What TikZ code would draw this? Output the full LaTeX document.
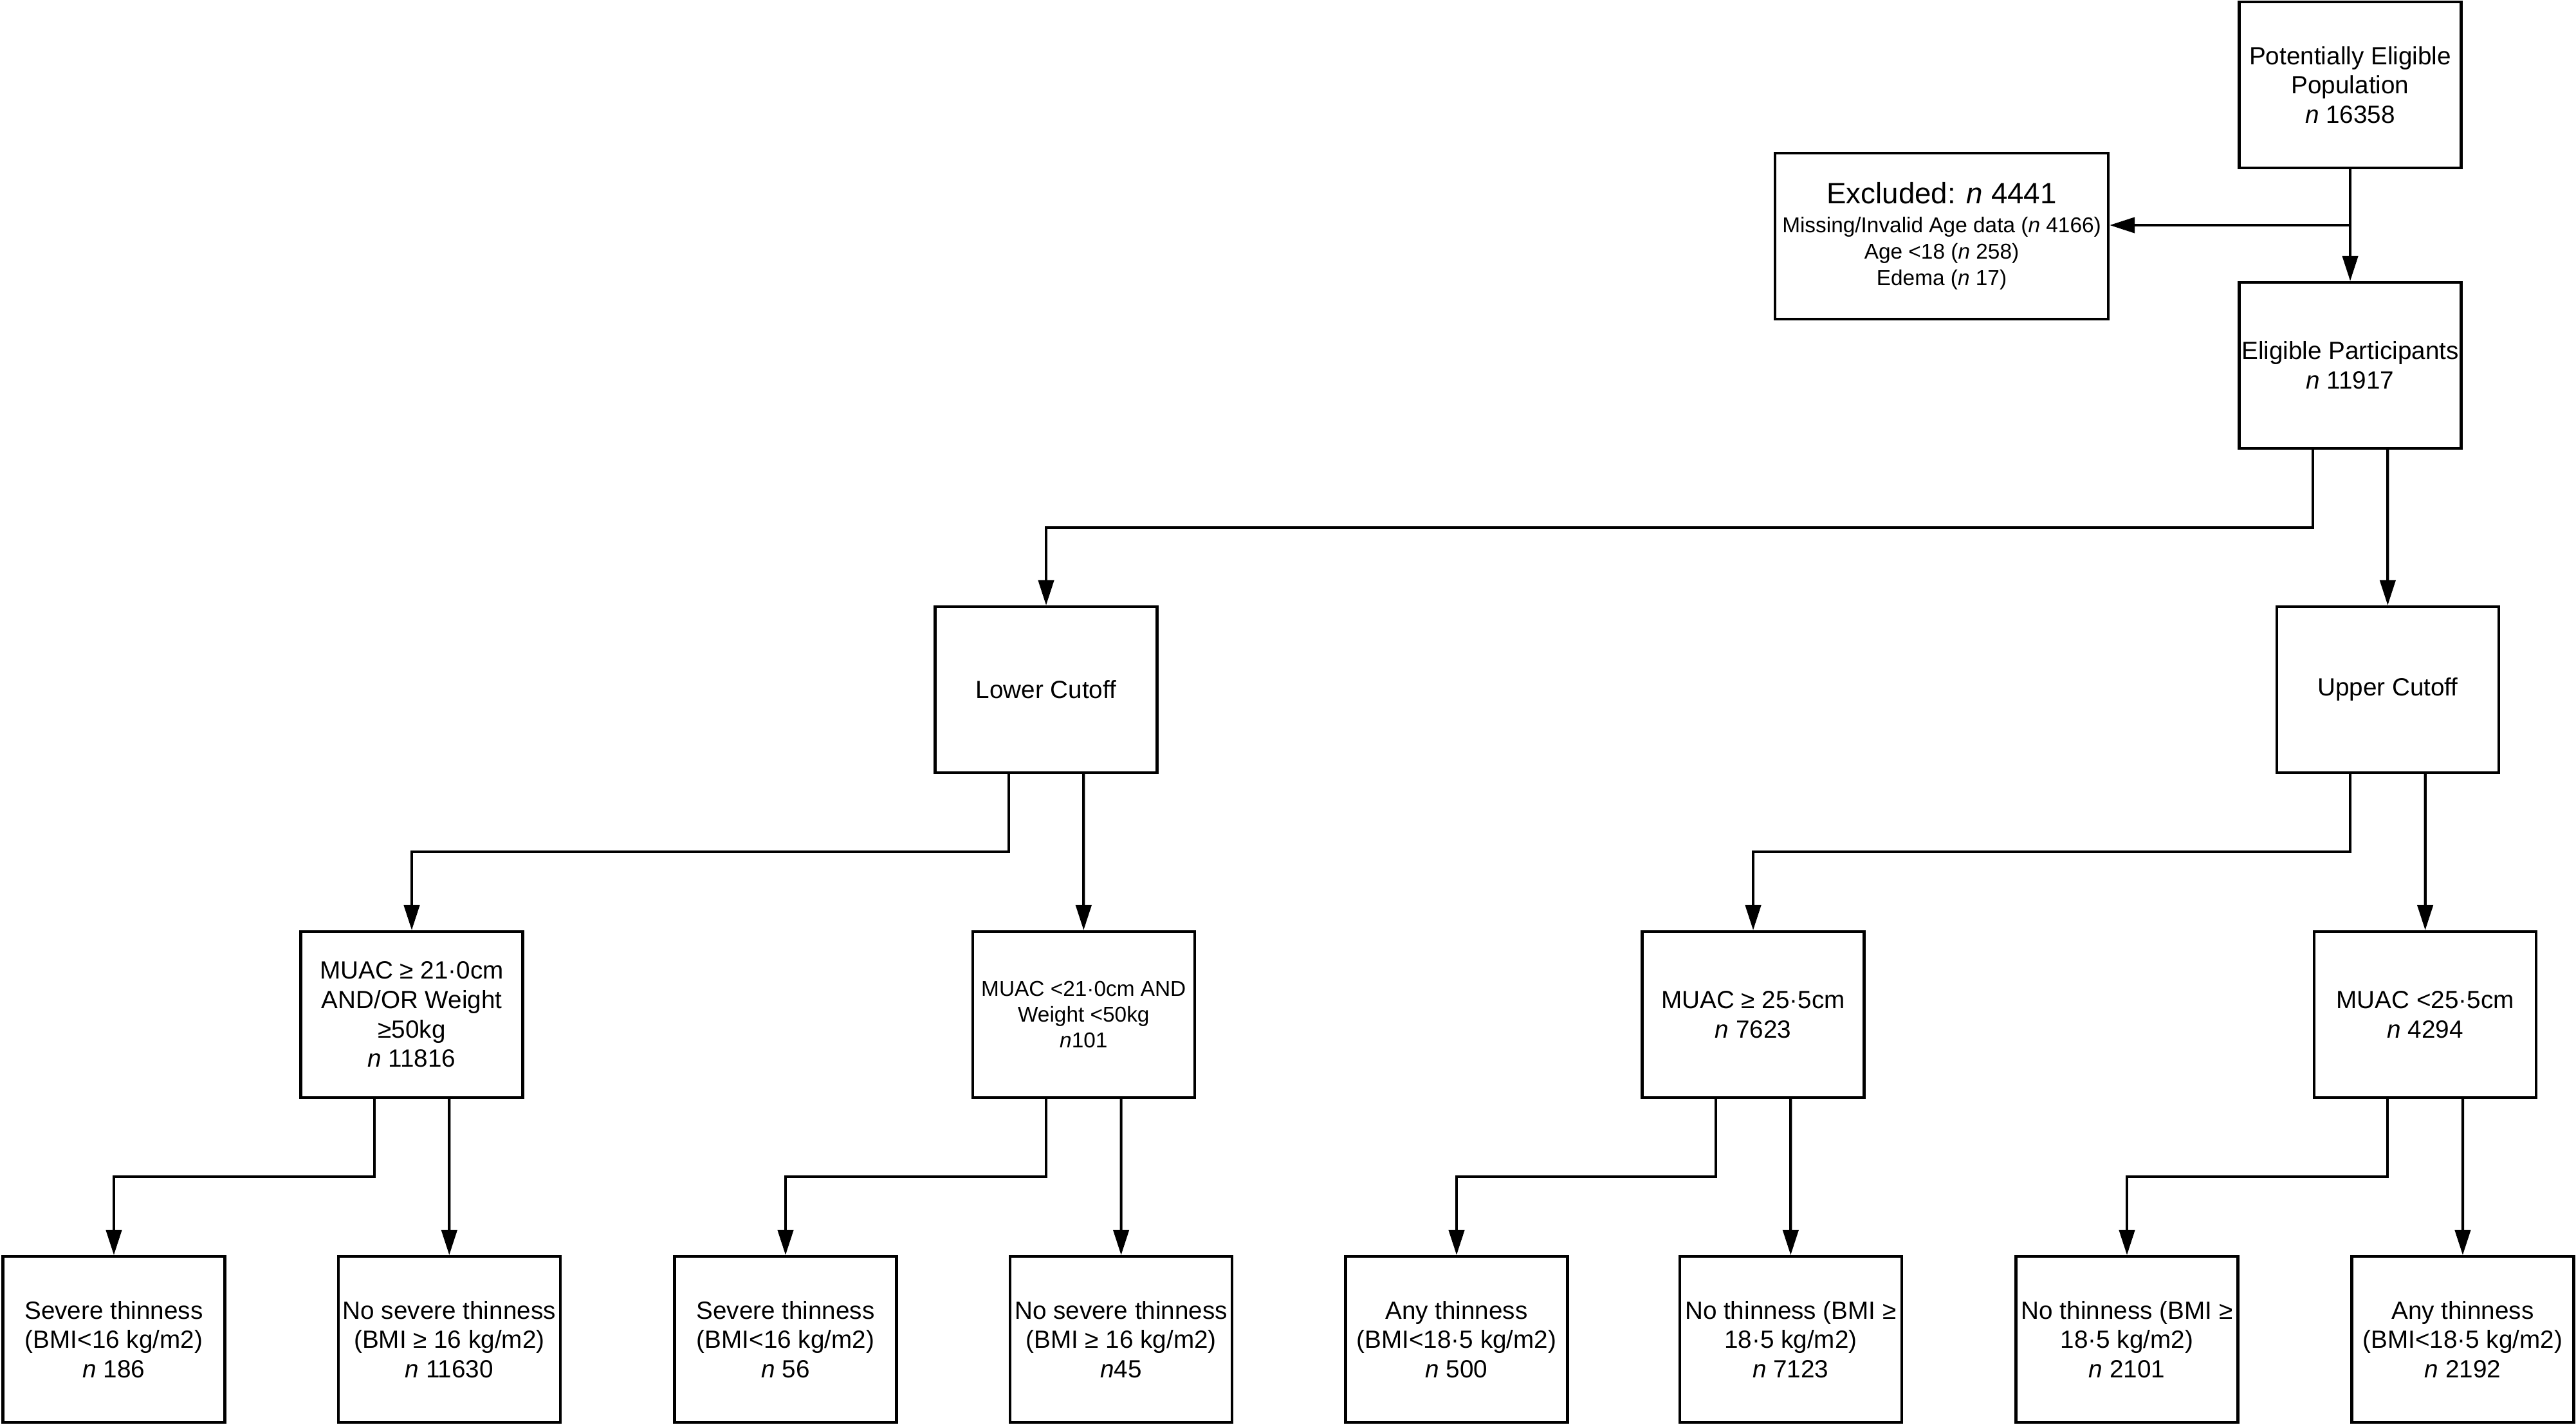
\documentclass[tikz,border=0pt]{standalone}
\usepackage{fontspec}
\setmainfont{Liberation Sans}
\usetikzlibrary{arrows.meta}

\begin{document}
\begin{tikzpicture}[
    box/.style={rectangle, draw, line width=1.2pt, minimum width=3.45cm, minimum height=2.58cm, align=center, inner sep=1pt, font=\fontsize{11}{13}\selectfont},
    widebox/.style={box, minimum width=5.18cm, font=\fontsize{9.5}{11.7}\selectfont},
    smallbox/.style={box, font=\fontsize{9.5}{11.5}\selectfont},
    link/.style={line width=1.2pt, -{Triangle[length=3.9mm,width=2.4mm]}}
]
\useasboundingbox (0,0) rectangle (40.04,-22.14);

\node[box] (pop) at (36.53,-1.32) {Potentially Eligible\\Population\\\textit{n} 16358};
\node[widebox] (excl) at (30.18,-3.67) {{\fontsize{13}{15}\selectfont Excluded: \textit{n} 4441}\\[1pt]Missing/Invalid Age data (\textit{n} 4166)\\Age <18 (\textit{n} 258)\\Edema (\textit{n} 17)};
\node[box] (elig) at (36.53,-5.68) {Eligible Participants\\\textit{n} 11917};
\coordinate (split) at (36.53,-3.50);

\node[box] (lower) at (16.26,-10.72) {Lower Cutoff};
\node[box] (upper) at (37.113,-10.72) {Upper Cutoff};

\node[box] (muacA) at (6.40,-15.77) {MUAC ≥ 21·0cm\\AND/OR Weight\\≥50kg\\\textit{n} 11816};
\node[smallbox] (muacB) at (16.843,-15.77) {MUAC <21·0cm AND\\Weight <50kg\\\textit{n}101};
\node[box] (muacC) at (27.25,-15.77) {MUAC ≥ 25·5cm\\\textit{n} 7623};
\node[box] (muacD) at (37.696,-15.77) {MUAC <25·5cm\\\textit{n} 4294};

\node[box] (bmi1) at (1.77,-20.82) {Severe thinness\\(BMI<16 kg/m2)\\\textit{n} 186};
\node[box] (bmi2) at (6.983,-20.82) {No severe thinness\\(BMI ≥ 16 kg/m2)\\\textit{n} 11630};
\node[box] (bmi3) at (12.21,-20.82) {Severe thinness\\(BMI<16 kg/m2)\\\textit{n} 56};
\node[box] (bmi4) at (17.426,-20.82) {No severe thinness\\(BMI ≥ 16 kg/m2)\\\textit{n}45};
\node[box] (bmi5) at (22.64,-20.82) {Any thinness\\(BMI<18·5 kg/m2)\\\textit{n} 500};
\node[box] (bmi6) at (27.833,-20.82) {No thinness (BMI ≥\\18·5 kg/m2)\\\textit{n} 7123};
\node[box] (bmi7) at (33.06,-20.82) {No thinness (BMI ≥\\18·5 kg/m2)\\\textit{n} 2101};
\node[box] (bmi8) at (38.279,-20.82) {Any thinness\\(BMI<18·5 kg/m2)\\\textit{n} 2192};

\draw[link] (pop) -- (elig);
\draw[link] (split) -- (split -| excl.east);

\draw[link] ([xshift=-5.83mm]elig.south) -- ++(0,-1.21) -| (lower.north);
\draw[link] ([xshift=5.83mm]elig.south) -- (upper.north);

\draw[link] ([xshift=-5.83mm]lower.south) -- ++(0,-1.21) -| (muacA.north);
\draw[link] ([xshift=5.83mm]lower.south) -- (muacB.north);
\draw[link] ([xshift=-5.83mm]upper.south) -- ++(0,-1.21) -| (muacC.north);
\draw[link] ([xshift=5.83mm]upper.south) -- (muacD.north);

\draw[link] ([xshift=-5.83mm]muacA.south) -- ++(0,-1.21) -| (bmi1.north);
\draw[link] ([xshift=5.83mm]muacA.south) -- (bmi2.north);
\draw[link] ([xshift=-5.83mm]muacB.south) -- ++(0,-1.21) -| (bmi3.north);
\draw[link] ([xshift=5.83mm]muacB.south) -- (bmi4.north);
\draw[link] ([xshift=-5.83mm]muacC.south) -- ++(0,-1.21) -| (bmi5.north);
\draw[link] ([xshift=5.83mm]muacC.south) -- (bmi6.north);
\draw[link] ([xshift=-5.83mm]muacD.south) -- ++(0,-1.21) -| (bmi7.north);
\draw[link] ([xshift=5.83mm]muacD.south) -- (bmi8.north);

\end{tikzpicture}
\end{document}
